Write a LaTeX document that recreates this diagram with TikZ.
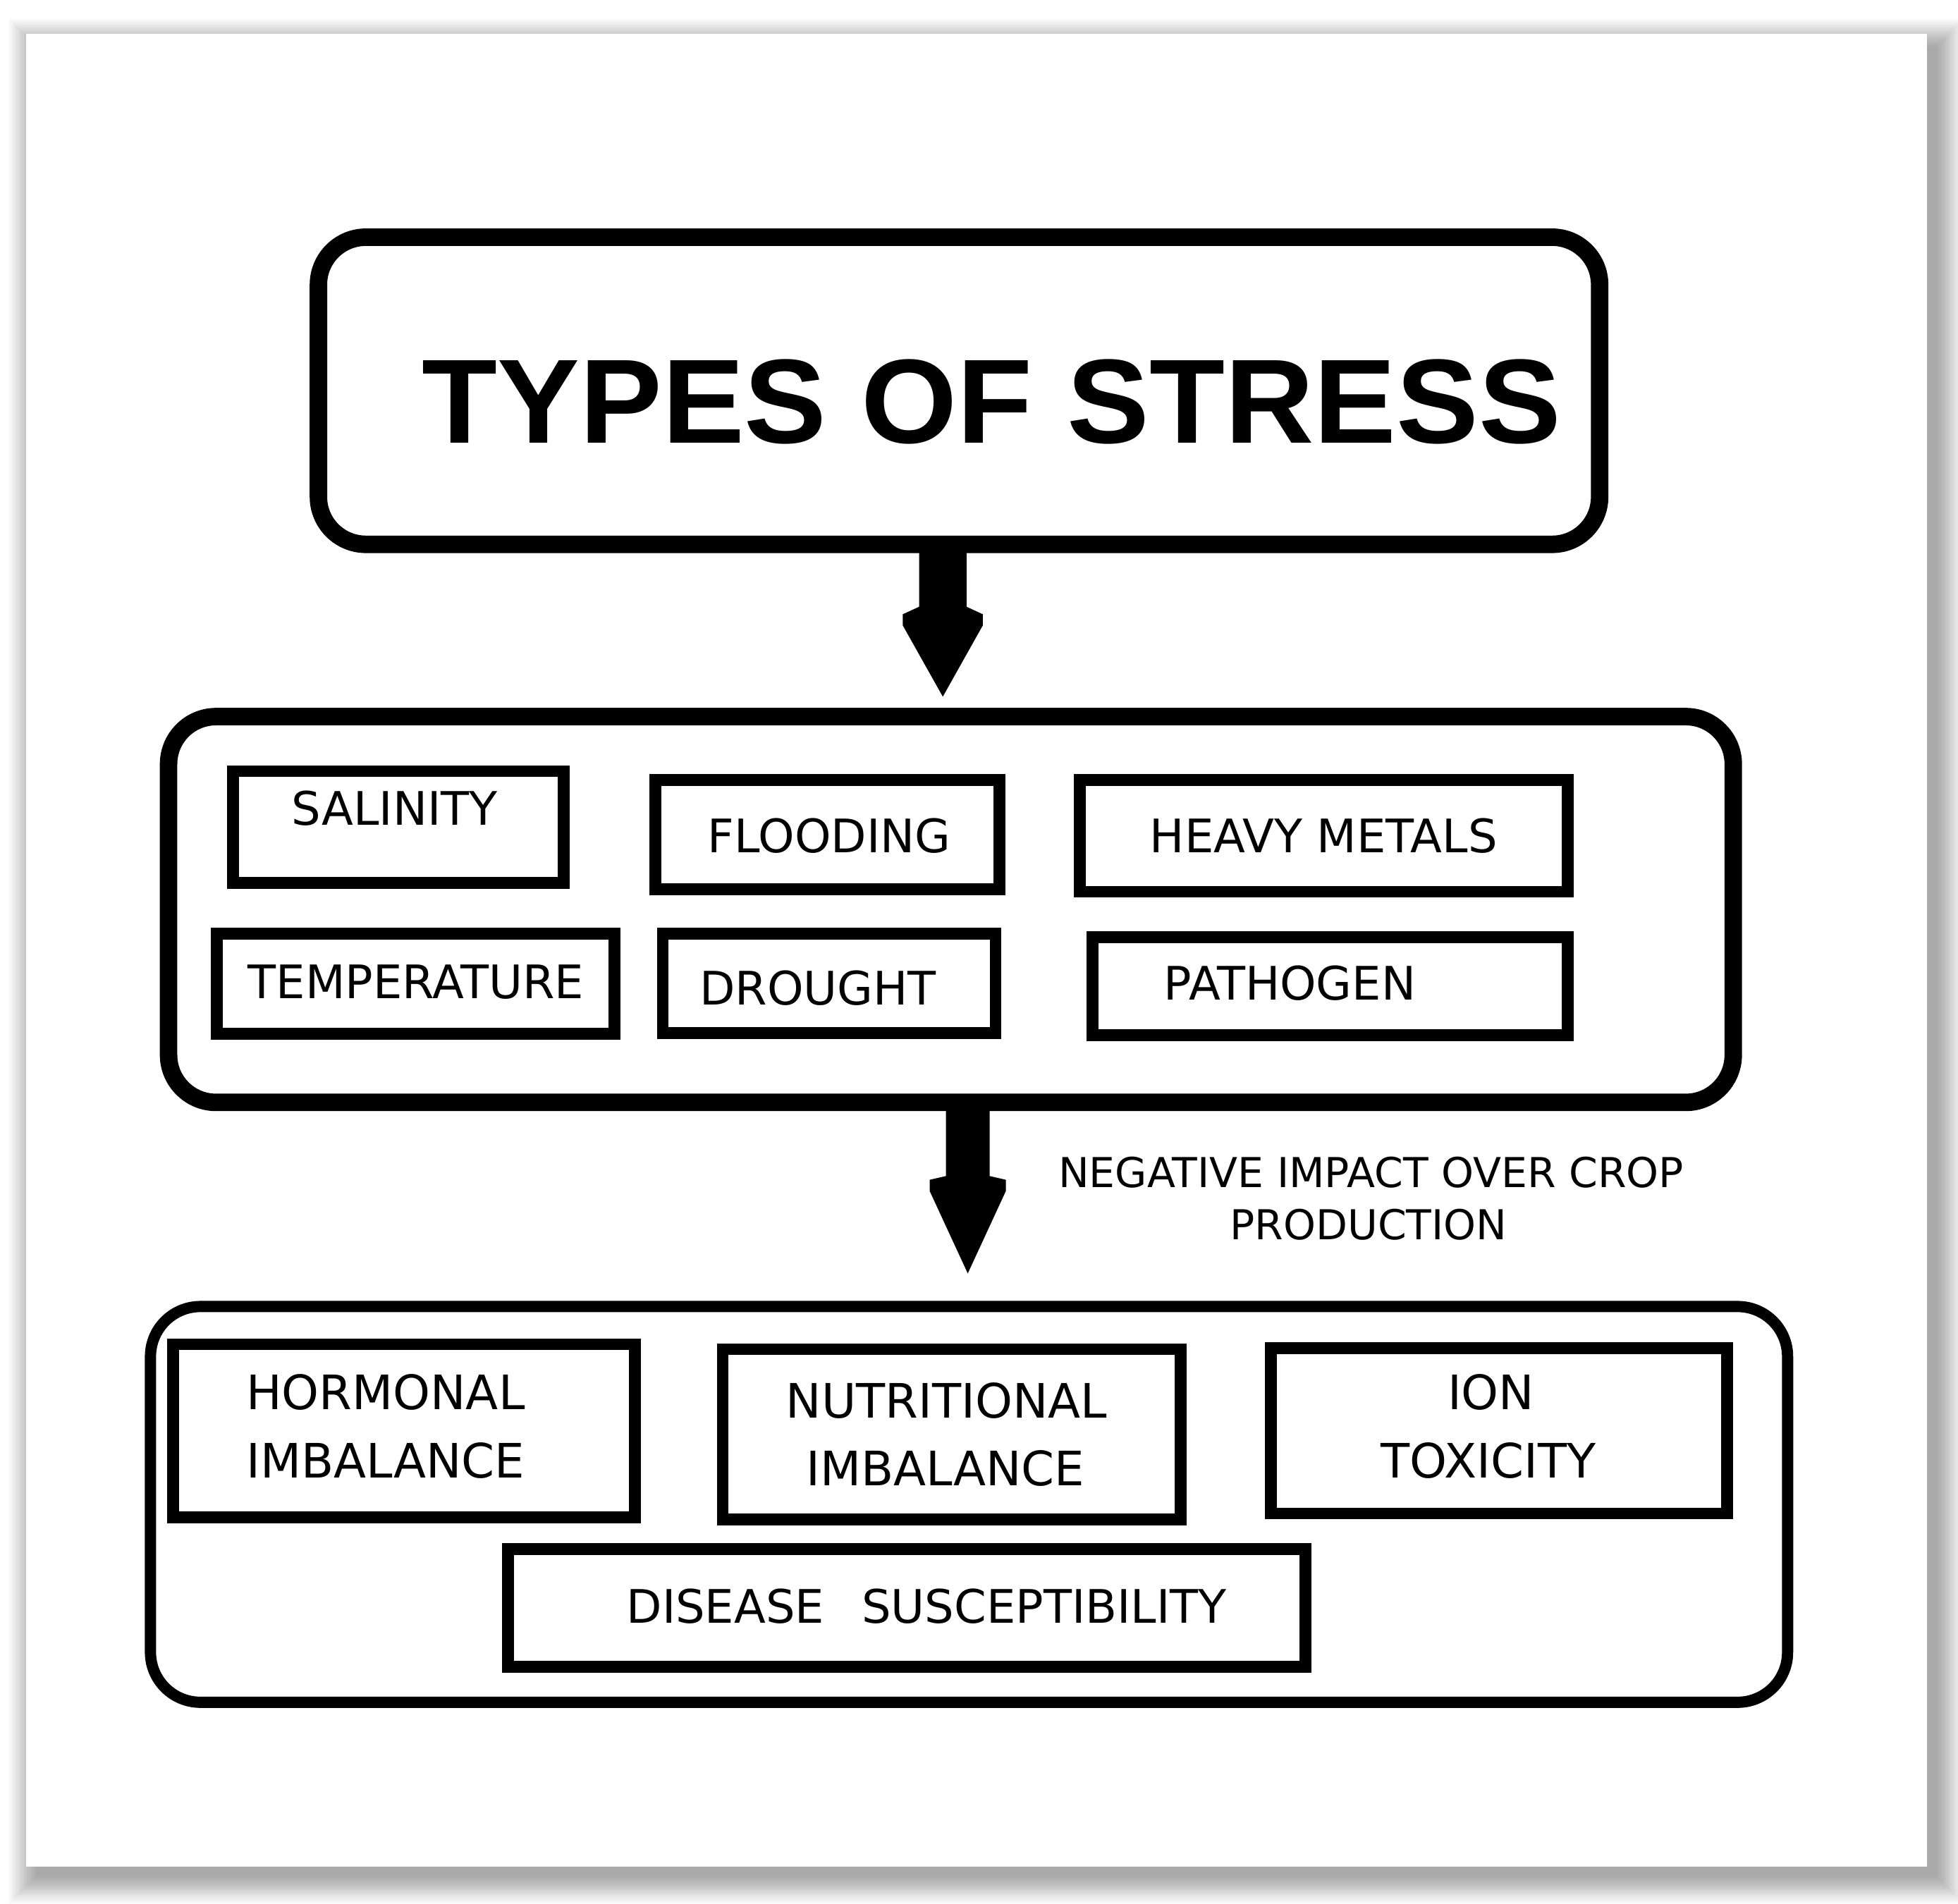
\documentclass[tikz,border=0pt]{standalone}
\usepackage{fontspec}
\setmainfont{DejaVu Sans}
\newfontfamily\titlefont{Liberation Sans}[FakeStretch=1.03]
\usetikzlibrary{calc}
\begin{document}
\begin{tikzpicture}[x=1pt,y=-1pt,
  bigbox/.style={draw, line width=14pt, rounded corners=38pt, inner sep=0pt},
  lowbox/.style={draw, line width=9pt, rounded corners=40pt, inner sep=0pt},
  ibox/.style={draw, line width=9.5pt, inner sep=0pt},
  lbl/.style={inner sep=0pt, font=\fontsize{37}{44}\selectfont, anchor=base},
  lblb/.style={inner sep=0pt, font=\fontsize{38}{44}\selectfont, anchor=base},
  lbln/.style={inner sep=0pt, font=\fontsize{33}{40}\selectfont, anchor=base},
  blockarrow/.style={fill=black}
]
\useasboundingbox (0,0) rectangle (1568,1525);
\fill[white] (0,0) rectangle (1568,1525);
% paper shadow
\foreach \i in {0,...,22}
  \fill[black,opacity=0.015] ({29-\i},{37-\i}) rectangle ({1551+\i},{1503+\i});
% paper
\node[fill=white, inner sep=0pt, minimum width=1522pt, minimum height=1468pt] (paper) at (782,761) {};

% top box and title
\node[bigbox, minimum width=1026pt, minimum height=246pt] (top) at (768,313) {};
\node[inner sep=0pt, anchor=base, font=\titlefont\bfseries\fontsize{96}{100}\selectfont] (title) at (794,355) {TYPES OF STRESS};

% middle box
\node[bigbox, minimum width=1253pt, minimum height=309pt] (mid) at (761.5,728.5) {};
\node[ibox, minimum width=264.5pt, minimum height=89.5pt] (sal) at (319,662.5) {};
\node[ibox, minimum width=275.5pt, minimum height=87.5pt] (flood) at (662.5,668.5) {};
\node[ibox, minimum width=390.5pt, minimum height=89.5pt] (heavy) at (1060,669.5) {};
\node[ibox, minimum width=318.5pt, minimum height=80.5pt] (temp) at (333,788) {};
\node[ibox, minimum width=266.5pt, minimum height=79.5pt] (drought) at (664,787.5) {};
\node[ibox, minimum width=380.5pt, minimum height=78.5pt] (patho) at (1065,790) {};
\node[lbl] (salT) at (316,661) {SALINITY};
\node[lbl] (floodT) at (664,683) {FLOODING};
\node[lbl] (heavyT) at (1060,683) {HEAVY METALS};
\node[lbl] (tempT) at (333,800) {TEMPERATURE};
\node[lbl] (droughtT) at (655,805) {DROUGHT};
\node[lbl] (pathoT) at (1033,801) {PATHOGEN};

% bottom box
\node[lowbox, minimum width=1311pt, minimum height=317pt] (low) at (776,1205) {};
\node[ibox, minimum width=369.5pt, minimum height=138.5pt] (horm) at (323.5,1146) {};
\node[ibox, minimum width=366.5pt, minimum height=136.5pt] (nutr) at (762,1149) {};
\node[ibox, minimum width=365.5pt, minimum height=132.5pt] (ion) at (1200.5,1146) {};
\node[ibox, minimum width=638.5pt, minimum height=94.5pt] (dis) at (726,1288) {};
\node[lblb, anchor=base west] (hormA) at (197,1129) {HORMONAL};
\node[lblb, anchor=base west] (hormB) at (197,1184) {IMBALANCE};
\node[lblb] (nutrA) at (758,1136) {NUTRITIONAL};
\node[lblb] (nutrB) at (757,1190) {IMBALANCE};
\node[lblb] (ionA) at (1194,1129) {ION};
\node[lblb] (ionB) at (1192,1184) {TOXICITY};
\node[lbl] (disT) at (742,1300) {DISEASE\hspace{30pt}SUSCEPTIBILITY};

% arrow label
\node[lbln] (negA) at (1098,951) {NEGATIVE IMPACT OVER CROP};
\node[lbln] (negB) at (1096,993) {PRODUCTION};

% block arrows
\coordinate (a1s) at (755,443);
\coordinate (a1t) at (755,558);
\fill[blockarrow] ($(a1s)+(-19,-5)$) -- ($(a1s)+(-19,43)$) -- ($(a1s)+(-32,49)$) -- ($(a1s)+(-32,58)$)
  -- (a1t) -- ($(a1s)+(32,58)$) -- ($(a1s)+(32,49)$) -- ($(a1s)+(19,43)$) -- ($(a1s)+(19,-5)$) -- cycle;
\coordinate (a2s) at (775,890);
\coordinate (a2t) at (775,1020);
\fill[blockarrow] ($(a2s)+(-17.5,-5)$) -- ($(a2s)+(-17.5,52)$) -- ($(a2s)+(-30.5,55)$) -- ($(a2s)+(-30.5,64)$)
  -- (a2t) -- ($(a2s)+(30.5,64)$) -- ($(a2s)+(30.5,55)$) -- ($(a2s)+(17.5,52)$) -- ($(a2s)+(17.5,-5)$) -- cycle;
\end{tikzpicture}
\end{document}
